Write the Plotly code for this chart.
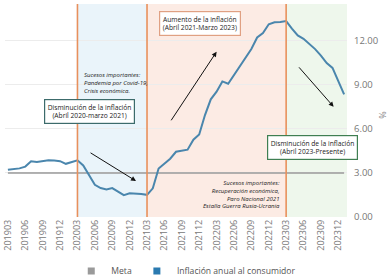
import plotly.graph_objects as go

months = [f"{y}{m:02d}" for y in range(2019, 2025) for m in range(1, 13)]
months = months[months.index("201903"):months.index("202401") + 1]

inflacion = [3.21, 3.25, 3.31, 3.43, 3.79, 3.75, 3.82, 3.86, 3.84, 3.80,
             3.62, 3.72, 3.86, 3.51, 2.85, 2.19, 1.97, 1.88, 1.97, 1.75, 1.49, 1.61,
             1.60, 1.56, 1.51, 1.95, 3.30, 3.63, 3.97, 4.44, 4.51, 4.58, 5.26, 5.62,
             6.94, 8.01, 8.53, 9.23, 9.07, 9.67, 10.21, 10.84, 11.44, 12.22, 12.53, 13.12,
             13.25, 13.28, 13.34, 12.82, 12.36, 12.13, 11.78, 11.43, 10.99, 10.48, 10.15, 9.28,
             8.35]
meta = [3.0] * len(months)
tick_labels = months[::3]
y_ticks = [0, 3, 6, 9, 12]
period_marks = ["202003", "202103", "202303"]

BLUE = "#4a86ad"
GRAY = "#9a9a9a"
ORANGE = "#e8905c"
FONT = "Open Sans"

idx = {m: i for i, m in enumerate(months)}
p0, p1, p2 = (idx[m] for m in period_marks)
x_end = len(months) - 0.5

fig = go.Figure()

for a, b, col in [(p0, p1, "#eaf4fa"), (p1, p2, "#fcebe4"), (p2, x_end, "#eef7ec")]:
    fig.add_shape(type="rect", xref="x", yref="paper", x0=a, x1=b, y0=0, y1=1,
                  fillcolor=col, line_width=0, layer="below")
for p in (p0, p1, p2):
    fig.add_shape(type="line", xref="x", yref="paper", x0=p, x1=p, y0=0, y1=1,
                  line=dict(color=ORANGE, width=1.6), layer="above")

fig.add_trace(go.Scatter(x=months, y=meta, mode="lines", line=dict(color=GRAY, width=1.6),
                         showlegend=False, hoverinfo="skip"))
fig.add_trace(go.Scatter(x=months, y=inflacion, mode="lines", line=dict(color=BLUE, width=2),
                         showlegend=False))
fig.add_trace(go.Scatter(x=[None], y=[None], mode="markers", name="Meta",
                         marker=dict(symbol="square", color=GRAY, size=7)))
fig.add_trace(go.Scatter(x=[None], y=[None], mode="markers", name="Inflación anual al consumidor",
                         marker=dict(symbol="square", color="#2a7ab0", size=7)))

def box(x, y, text, color):
    fig.add_annotation(x=x, y=y, xref="x", yref="y", text=text, showarrow=False,
                       font=dict(family=FONT, size=6.7, color="#222"), align="center",
                       bgcolor="white", bordercolor=color, borderwidth=1.2, borderpad=2.5)

box(14.0, 7.16, "Disminución de la inflación<br>(Abril 2020-marzo 2021)", "#3c6b6b")
box(33.2, 13.2, "Aumento de la inflación<br>(Abril 2021-Marzo 2023)", "#e0a082")
box(52.6, 4.75, "Disminución de la inflación<br>(Abril 2023-Presente)", "#3f7f52")

fig.add_annotation(x=12.7, y=9.13, xref="x", yref="y", xanchor="left", align="left", showarrow=False,
                   text="<i>Sucesos importantes:<br>Pandemia por Covid-19,<br>Crisis económica.</i>",
                   font=dict(family=FONT, size=6.0, color="#222"))
fig.add_annotation(x=47.2, y=1.5, xref="x", yref="y", xanchor="right", align="right", showarrow=False,
                   text="<i>Sucesos importantes:<br>Recuperación económica,<br>Paro Nacional 2021<br>Estalla Guerra Rusia-Ucrania</i>",
                   font=dict(family=FONT, size=6.0, color="#222"))

def arrow(x0, y0, x1, y1):
    fig.add_annotation(x=x1, y=y1, ax=x0, ay=y0, xref="x", yref="y", axref="x", ayref="y",
                       text="", showarrow=True, arrowhead=2, arrowsize=1, arrowwidth=1,
                       arrowcolor="#111")

arrow(14.0, 4.43, 22.1, 2.45)
arrow(28.0, 6.48, 36.0, 11.25)
arrow(50.0, 10.29, 56.2, 7.5)

# y-axis title "%"
fig.add_annotation(x=1.13, y=0.48, xref="paper", yref="paper", text="%", textangle=-90,
                   showarrow=False, font=dict(family=FONT, size=9, color="#888"))

fig.update_layout(
    width=388, height=277,
    margin=dict(l=5, r=41, t=4, b=60, autoexpand=False),
    paper_bgcolor="white", plot_bgcolor="white",
    font=dict(family=FONT, color="#666"),
    legend=dict(orientation="h", x=0.53, xanchor="center", y=-0.253, yanchor="middle",
                font=dict(size=8.6, color="#555"), itemwidth=30, tracegroupgap=0,
                bgcolor="rgba(0,0,0,0)"),
    xaxis=dict(type="category", categoryorder="array", categoryarray=months, automargin=False,
               range=[-0.5, x_end], tickmode="array", tickvals=tick_labels,
               ticktext=tick_labels, tickangle=-90, tickfont=dict(size=9, color="#777"),
               showgrid=False, zeroline=False, showline=False, ticks=""),
    yaxis=dict(side="right", range=[0, 14.5], tickvals=y_ticks, automargin=False,
               ticktext=[f"{v:.2f}" for v in y_ticks], tickfont=dict(size=9.5, color="#777"),
               ticklabelstandoff=6,
               showgrid=True, gridcolor="#ececec", zeroline=False),
)

fig.write_html("out.html", config={"displayModeBar": False},
               post_script="document.body.style.margin='0';document.body.style.overflow='hidden';")
